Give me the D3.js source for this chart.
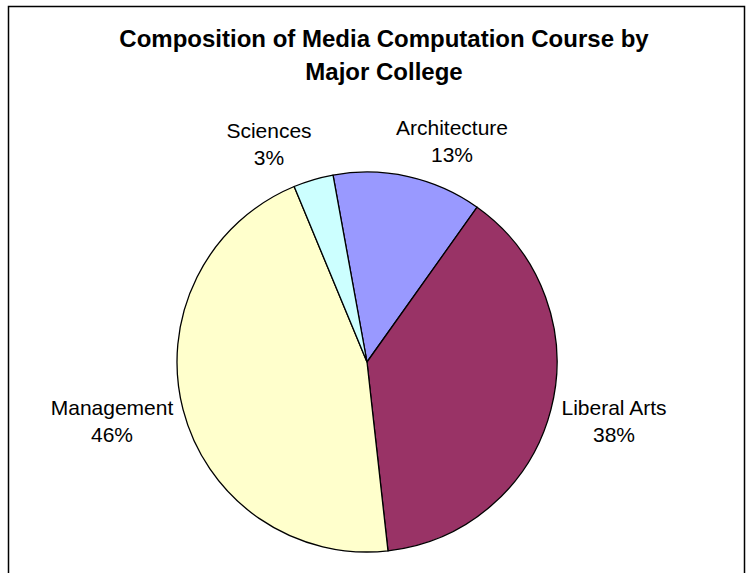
<!DOCTYPE html>
<html>
<head>
<meta charset="utf-8">
<script src="https://cdn.jsdelivr.net/npm/d3@7"></script>
<style>
  html, body { margin: 0; padding: 0; background: #fff; }
  svg { display: block; }
  text { font-family: "Liberation Sans", Arial, sans-serif; fill: #000; }
</style>
</head>
<body>
<svg id="chart" width="746" height="573"></svg>
<script>
// ---- data ----
const categories = ["Architecture", "Liberal Arts", "Management", "Sciences"];
const values = [12.7, 38.4, 45.5, 3.4];
const colors = ["#9999FF", "#993366", "#FFFFCC", "#CCFFFF"];
const titleLines = ["Composition of Media Computation Course by", "Major College"];

// ---- layout ----
const W = 746, H = 573;
const cx = 367, cy = 362, R = 190;
const startDeg = -10.3;
// label anchor offsets from pie centre (layout only)
const labelOffsets = [[85, -227], [247, 53], [-255, 53], [-98, -224]];

const svg = d3.select("#chart");
svg.append("rect").attr("width", W).attr("height", H).attr("fill", "#fff");

// frame
svg.append("rect")
  .attr("x", 8.5).attr("y", 6.5)
  .attr("width", 736).attr("height", 600)
  .attr("fill", "none").attr("stroke", "#000").attr("stroke-width", 1.5);

// title
svg.append("text")
  .attr("x", 384).attr("y", 47)
  .attr("text-anchor", "middle")
  .attr("font-size", 24).attr("font-weight", "bold")
  .selectAll("tspan").data(titleLines).join("tspan")
  .attr("x", 384)
  .attr("dy", (d, i) => i === 0 ? 0 : 33)
  .text(d => d);

const data = categories.map((c, i) => ({ name: c, value: values[i], color: colors[i], off: labelOffsets[i] }));

const pie = d3.pie()
  .value(d => d.value)
  .sort(null)
  .startAngle(startDeg * Math.PI / 180)
  .endAngle(startDeg * Math.PI / 180 + 2 * Math.PI);

const arc = d3.arc().innerRadius(0).outerRadius(R);

const g = svg.append("g").attr("transform", `translate(${cx},${cy})`);

g.selectAll("path.slice")
  .data(pie(data))
  .join("path")
  .attr("class", "slice")
  .attr("d", arc)
  .attr("fill", d => d.data.color)
  .attr("stroke", "#000")
  .attr("stroke-width", 1.3)
  .attr("stroke-linejoin", "round");

const labels = g.selectAll("text.lbl")
  .data(pie(data))
  .join("text")
  .attr("class", "lbl")
  .attr("text-anchor", "middle")
  .attr("font-size", 21)
  .attr("transform", d => `translate(${d.data.off[0]},${d.data.off[1]})`);

labels.append("tspan").attr("x", 0).attr("dy", 0).text(d => d.data.name);
labels.append("tspan").attr("x", 0).attr("dy", 27).text(d => Math.round(d.data.value) + "%");
</script>
</body>
</html>
